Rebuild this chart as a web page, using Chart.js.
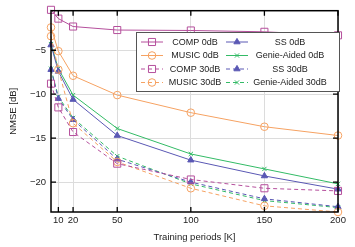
<!DOCTYPE html>
<html><head><meta charset="utf-8">
<script src="https://cdn.jsdelivr.net/npm/chart.js@4/dist/chart.umd.min.js"></script>
<style>html,body{margin:0;padding:0;background:#fff}#wrap{width:355px;height:247px}</style>
</head><body><div id="wrap"><canvas id="c" width="355" height="247"></canvas></div>
<script>
const periods = [5, 10, 20, 50, 100, 150, 200];
const xTicks = [10, 20, 50, 100, 150, 200];
const yTicks = [-20, -15, -10, -5];
const comp0dB   = [-0.4, -1.4, -2.3, -2.7, -2.75, -2.9, -3.3];
const music0dB  = [-2.4, -5.1, -7.9, -10.1, -12.1, -13.7, -14.7];
const ss0dB     = [-4.4, -7.4, -10.6, -14.7, -17.5, -19.3, -20.8];
const genie0dB  = [-4.3, -7.1, -10.1, -13.9, -16.8, -18.5, -20.2];
const comp30dB  = [-8.8, -11.5, -14.3, -17.9, -19.7, -20.7, -21.0];
const music30dB = [-3.4, -7.2, -13.3, -17.7, -20.7, -22.7, -23.4];
const ss30dB    = [-7.2, -10.5, -12.9, -17.4, -20.0, -21.9, -22.8];
const genie30dB = [-7.1, -10.3, -12.7, -17.05, -20.2, -22.1, -22.9];
const seriesNames = ['COMP 0dB', 'MUSIC 0dB', 'COMP 30dB', 'MUSIC 30dB', 'SS 0dB', 'Genie-Aided 0dB', 'SS 30dB', 'Genie-Aided 30dB'];

const C_COMP = '#b54f9c', C_MUSIC = '#f6a262', C_SS = '#5a58b4', C_GA = '#33bb66';
const FONT = 'Liberation Sans';

function mk(label, vals, color, style, dashed, radius, filled) {
  return {
    label, data: periods.map((p, i) => ({x: p, y: vals[i]})),
    borderColor: color, backgroundColor: filled ? color : 'rgba(0,0,0,0)',
    borderWidth: 1, borderDash: dashed ? [4, 3] : [],
    pointStyle: style, pointRadius: radius, pointBorderWidth: 1,
    pointBorderColor: color, pointBackgroundColor: filled ? color : 'rgba(0,0,0,0)',
    tension: 0, clip: false, _dashed: dashed
  };
}
const datasets = [
  mk(seriesNames[0], comp0dB, C_COMP, 'rect', false, 5, false),
  mk(seriesNames[1], music0dB, C_MUSIC, 'circle', false, 3.8, false),
  mk(seriesNames[2], comp30dB, C_COMP, 'rect', true, 5, false),
  mk(seriesNames[3], music30dB, C_MUSIC, 'circle', true, 3.8, false),
  mk(seriesNames[4], ss0dB, C_SS, 'triangle', false, 3.6, true),
  mk(seriesNames[5], genie0dB, C_GA, 'crossRot', false, 3, false),
  mk(seriesNames[6], ss30dB, C_SS, 'triangle', true, 3.6, true),
  mk(seriesNames[7], genie30dB, C_GA, 'crossRot', true, 3, false),
];

function drawMarker(ctx, style, x, y, r, color, filled) {
  ctx.save();
  ctx.strokeStyle = color; ctx.fillStyle = color; ctx.lineWidth = 1; ctx.setLineDash([]);
  ctx.beginPath();
  if (style === 'rect') {
    const s = Math.SQRT1_2 * r; ctx.rect(x - s, y - s, 2 * s, 2 * s);
  } else if (style === 'circle') {
    ctx.arc(x, y, r, 0, Math.PI * 2);
  } else if (style === 'triangle') {
    ctx.moveTo(x, y - r);
    ctx.lineTo(x + r * 0.866, y + r * 0.5);
    ctx.lineTo(x - r * 0.866, y + r * 0.5);
    ctx.closePath();
  } else if (style === 'crossRot') {
    const s = r * Math.SQRT1_2;
    ctx.moveTo(x - s, y - s); ctx.lineTo(x + s, y + s);
    ctx.moveTo(x - s, y + s); ctx.lineTo(x + s, y - s);
  }
  if (filled) ctx.fill();
  ctx.stroke();
  ctx.restore();
}

const framePlugin = {
  id: 'frame',
  afterDraw(chart) {
    const ctx = chart.ctx, a = chart.chartArea;
    const xs = chart.scales.x, ys = chart.scales.y;
    ctx.save();
    ctx.strokeStyle = '#000'; ctx.lineWidth = 1.3; ctx.setLineDash([]);
    ctx.beginPath();
    xTicks.forEach(v => {
      const px = xs.getPixelForValue(v);
      ctx.moveTo(px, a.bottom); ctx.lineTo(px, a.bottom - 5);
      ctx.moveTo(px, a.top); ctx.lineTo(px, a.top + 5);
    });
    yTicks.forEach(v => {
      const py = ys.getPixelForValue(v);
      ctx.moveTo(a.left, py); ctx.lineTo(a.left + 5, py);
      ctx.moveTo(a.right, py); ctx.lineTo(a.right - 5, py);
    });
    ctx.stroke();
    ctx.lineWidth = 1.5;
    ctx.strokeRect(a.left, a.top, a.right - a.left, a.bottom - a.top);
    // legend
    const L = 136, T = 32, W = 203, H = 59;
    ctx.fillStyle = '#fff';
    ctx.fillRect(L, T, W, H);
    ctx.strokeStyle = '#555'; ctx.lineWidth = 1;
    ctx.strokeRect(L + 0.5, T + 0.5, W, H);
    const rowsY = [42, 55.5, 69, 82.5];
    const cols = [{x0: 141, x1: 163, mx: 152, tx: 195}, {x0: 226, x1: 248, mx: 237, tx: 290}];
    ctx.font = '9px "' + FONT + '"';
    ctx.textAlign = 'center'; ctx.textBaseline = 'middle';
    chart.data.datasets.forEach((ds, i) => {
      const col = cols[Math.floor(i / 4)], y = rowsY[i % 4];
      ctx.save();
      ctx.strokeStyle = ds.borderColor; ctx.lineWidth = 1;
      ctx.setLineDash(ds._dashed ? [4, 3] : []);
      ctx.beginPath(); ctx.moveTo(col.x0, y); ctx.lineTo(col.x1, y); ctx.stroke();
      ctx.restore();
      drawMarker(ctx, ds.pointStyle, col.mx, y, ds.pointRadius, ds.borderColor, ds.pointStyle === 'triangle');
      ctx.fillStyle = '#222';
      ctx.fillText(ds.label, col.tx, y + 0.5);
    });
    ctx.restore();
  }
};

new Chart(document.getElementById('c'), {
  type: 'line',
  data: {datasets},
  options: {
    responsive: false, animation: false, devicePixelRatio: 1,
    layout: {padding: {left: 0, right: 17, top: 3, bottom: 0}},
    plugins: {legend: {display: false}, tooltip: {enabled: false}},
    scales: {
      x: {
        type: 'linear', min: 5, max: 200,
        afterBuildTicks: s => { s.ticks = xTicks.map(v => ({value: v})); },
        afterFit: s => { s.height = 35; },
        grid: {color: '#dcdcdc', lineWidth: 1, drawTicks: false},
        border: {display: false},
        ticks: {padding: 3, color: '#222', font: {family: FONT, size: 9.5}, maxRotation: 0, autoSkip: false},
        title: {display: true, text: 'Training periods [K]', color: '#222', font: {family: FONT, size: 9.5}, padding: {top: 0, bottom: 4}}
      },
      y: {
        type: 'linear', min: -23.4, max: -0.5,
        afterBuildTicks: s => { s.ticks = yTicks.map(v => ({value: v})); },
        afterFit: s => { s.width = 51; },
        grid: {color: '#dcdcdc', lineWidth: 1, drawTicks: false},
        border: {display: false},
        ticks: {padding: 5, color: '#222', font: {family: FONT, size: 9.5},
          callback: v => (v < 0 ? '\u2212' + Math.abs(v) : String(v))},
        title: {display: true, text: 'NMSE [dB]', color: '#222', font: {family: FONT, size: 9.5}, padding: {top: 8, bottom: 0}}
      }
    }
  },
  plugins: [framePlugin]
});
</script></body></html>
